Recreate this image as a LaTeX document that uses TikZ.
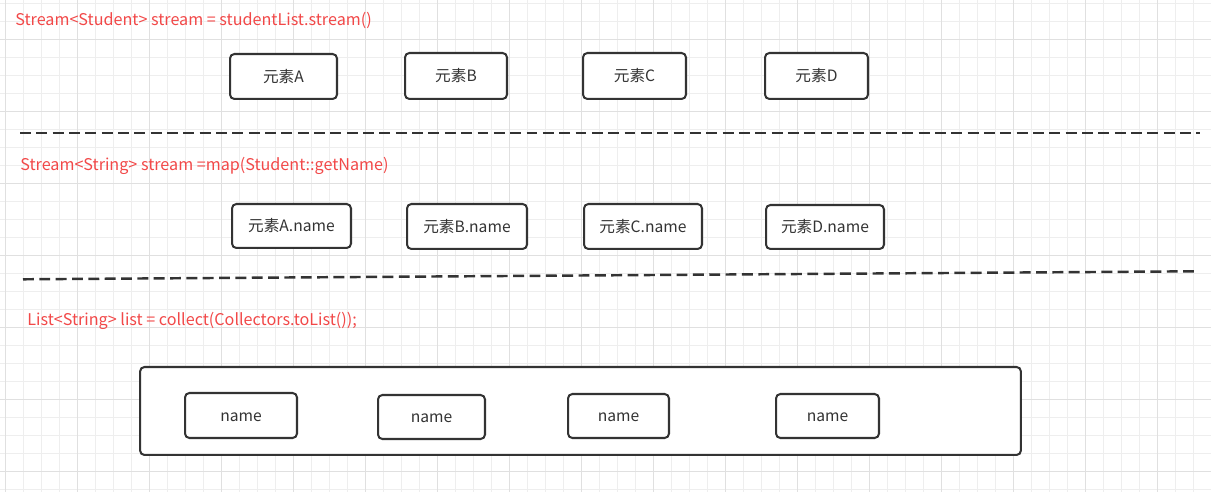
\documentclass[tikz,border=0pt]{standalone}
\usepackage{fontspec}
\setmainfont{Noto Sans CJK SC}
\definecolor{boxgray}{HTML}{333333}
\definecolor{codered}{HTML}{F24848}
\definecolor{gridminor}{HTML}{EEEEEE}
\definecolor{gridmajor}{HTML}{E0E0E0}
\begin{document}
\begin{tikzpicture}[x=0.02cm,y=-0.02cm,
  item/.style={draw=boxgray, line width=1.15pt, rounded corners=2.5pt, fill=white,
    text=boxgray, font=\fontsize{8.9}{10}\selectfont, inner sep=0pt,
    text height=6.4pt, text depth=0pt},
  code/.style={anchor=west, inner sep=0pt, text=codered, font=\fontsize{9.2}{11}\selectfont},
  divider/.style={draw=boxgray, line width=1.4pt, dash pattern=on 6.2pt off 3.1pt}]
% canvas and grid
\fill[white] (0,0) rectangle (1211,492);
\useasboundingbox (0,0) rectangle (1211,492);
\foreach \x in {5.3,23.3,...,1211} \draw[gridminor, line width=0.5pt] (\x,0) -- (\x,492);
\foreach \y in {3.7,21.7,...,492} \draw[gridminor, line width=0.5pt] (0,\y) -- (1211,\y);
\foreach \x in {5.5,77.5,...,1211} \draw[gridmajor, line width=0.6pt] (\x,0) -- (\x,492);
\foreach \y in {39.7,111.7,...,492} \draw[gridmajor, line width=0.6pt] (0,\y) -- (1211,\y);

% stage 1: stream of students
\node[code] (t1) at (15,20) {Stream<Student> stream = studentList.stream()};
\node[item, minimum width=2.14cm, minimum height=0.90cm] (sA) at (283.5,76.5) {元素A};
\node[item, minimum width=2.04cm, minimum height=0.92cm] (sB) at (456,76) {元素B};
\node[item, minimum width=2.06cm, minimum height=0.92cm] (sC) at (634.5,76) {元素C};
\node[item, minimum width=2.06cm, minimum height=0.92cm] (sD) at (816.5,76) {元素D};

\coordinate (d1a) at (20,133);
\coordinate (d1b) at (1200,133);
\draw[divider] (d1a) -- (d1b);

% stage 2: mapped to names
\node[code] (t2) at (20,166) {Stream<String> stream =map(Student::getName)};
\node[item, minimum width=2.38cm, minimum height=0.88cm] (nA) at (291.5,226) {元素A.name};
\node[item, minimum width=2.40cm, minimum height=0.90cm] (nB) at (467,226.5) {元素B.name};
\node[item, minimum width=2.36cm, minimum height=0.90cm] (nC) at (643,226.5) {元素C.name};
\node[item, minimum width=2.36cm, minimum height=0.88cm] (nD) at (825,227) {元素D.name};

\coordinate (d2a) at (23,279.3);
\coordinate (d2b) at (1197,271.3);
\draw[divider] (d2a) -- (d2b);

% stage 3: collected into a list
\node[code] (t3) at (27,321) {List<String> list = collect(Collectors.toList());};
\node[item, minimum width=17.62cm, minimum height=1.76cm] (lst) at (580.5,411) {};
\node[item, minimum width=2.24cm, minimum height=0.90cm] (l1) at (241,415.5) {name};
\node[item, minimum width=2.14cm, minimum height=0.88cm] (l2) at (431.5,417) {name};
\node[item, minimum width=2.02cm, minimum height=0.88cm] (l3) at (618.5,416) {name};
\node[item, minimum width=2.06cm, minimum height=0.88cm] (l4) at (827.5,416) {name};
\end{tikzpicture}
\end{document}
